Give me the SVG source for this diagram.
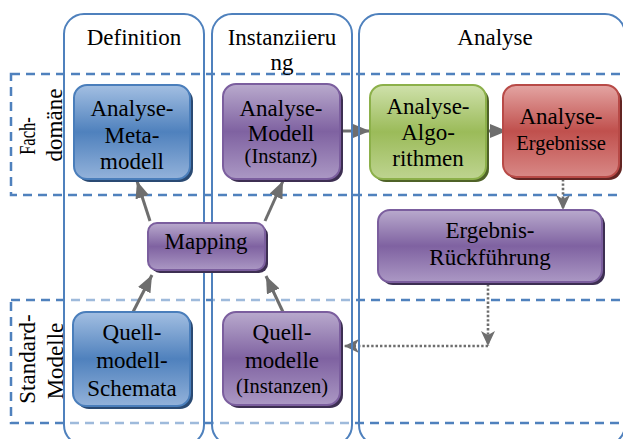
<svg xmlns="http://www.w3.org/2000/svg" width="623" height="439" viewBox="0 0 623 439" font-family="Liberation Serif, Times New Roman, serif">
  <style>
    text { fill: #000; }
    .t { font-size: 23px; text-anchor: middle; }
    .s { font-size: 20.5px; text-anchor: middle; }
    .row { fill: none; stroke: #4f81bd; stroke-width: 2.5; stroke-dasharray: 9 6; }
    .col { fill: none; stroke: #4f81bd; stroke-width: 2; }
    .fade { fill: #fff; opacity: 0.45; }
    .solid { fill: none; stroke: #6e6e6e; stroke-width: 3; marker-end: url(#tri); }
    .dotted { fill: none; stroke: #6e6e6e; stroke-width: 2.6; stroke-dasharray: 2.4 2; marker-end: url(#dart); }
    .blue .sh { fill: #2a4a73; } .blue .bx { fill: url(#gBlue); stroke: #4a7ebb; stroke-width: 2; }
    .purple .sh { fill: #3d2f52; } .purple .bx { fill: url(#gPurple); stroke: #7b5e9e; stroke-width: 2; }
    .green .sh { fill: #4f6228; } .green .bx { fill: url(#gGreen); stroke: #8cb04a; stroke-width: 2; }
    .red .sh { fill: #632523; } .red .bx { fill: url(#gRed); stroke: #b84a47; stroke-width: 2; }
  </style>
  <defs>
    <linearGradient id="gBlue" x1="0" y1="0" x2="0" y2="1">
      <stop offset="0" stop-color="#a3bfe2"/>
      <stop offset="0.5" stop-color="#4f81bd"/>
      <stop offset="1" stop-color="#93b2da"/>
    </linearGradient>
    <linearGradient id="gPurple" x1="0" y1="0" x2="0" y2="1">
      <stop offset="0" stop-color="#b9aacd"/>
      <stop offset="0.5" stop-color="#7f62a1"/>
      <stop offset="1" stop-color="#ab98c4"/>
    </linearGradient>
    <linearGradient id="gGreen" x1="0" y1="0" x2="0" y2="1">
      <stop offset="0" stop-color="#cfe1ab"/>
      <stop offset="0.5" stop-color="#9bbb59"/>
      <stop offset="1" stop-color="#bed490"/>
    </linearGradient>
    <linearGradient id="gRed" x1="0" y1="0" x2="0" y2="1">
      <stop offset="0" stop-color="#e4a5a3"/>
      <stop offset="0.5" stop-color="#c0504d"/>
      <stop offset="1" stop-color="#d88886"/>
    </linearGradient>
    <marker id="tri" markerUnits="userSpaceOnUse" markerWidth="18" markerHeight="16" refX="17" refY="7" orient="auto">
      <path d="M0,0 L17,7 L0,14 z" fill="#6e6e6e"/>
    </marker>
    <marker id="dart" markerUnits="userSpaceOnUse" markerWidth="16" markerHeight="16" refX="15" refY="7" orient="auto">
      <path d="M0,0 L15,7 L0,14 L4,7 z" fill="#6e6e6e"/>
    </marker>
  </defs>

  <!-- swimlane rows -->
  <g id="rows">
    <rect class="row" x="11" y="74" width="625" height="121"/>
    <rect class="row" x="11" y="300" width="625" height="123"/>
    <rect class="fade" x="65" y="297" width="138" height="6"/>
    <rect class="fade" x="213" y="297" width="138" height="6"/>
    <rect class="fade" x="65" y="420" width="138" height="6"/>
    <rect class="fade" x="213" y="420" width="138" height="6"/>
    <text class="t" transform="translate(35,136) rotate(-90) scale(0.72,1)">Fach-</text>
    <text class="t" transform="translate(62,125) rotate(-90)">domäne</text>
    <text class="t" transform="translate(35,359) rotate(-90)">Standard-</text>
    <text class="t" transform="translate(63,361) rotate(-90)">Modelle</text>
  </g>

  <!-- connectors -->
  <g id="connectors">
    <path class="solid" d="M150,221 L137,181"/>
    <path class="solid" d="M265,221 L283,181"/>
    <path class="solid" d="M133,312 L152,275"/>
    <path class="solid" d="M283,312 L266,276"/>
    <path class="solid" d="M341,131 L370,131"/>
    <path class="solid" d="M486,131 L507,131"/>
    <path class="dotted" d="M563,179 L563,210"/>
    <path class="dotted" d="M488,284 L488,346"/>
    <path class="dotted" d="M488,346 L344,346"/>
  </g>

  <!-- phase columns -->
  <g id="col-definition">
    <rect class="col" x="64" y="14" width="140" height="431" rx="20"/>
    <text class="t" x="134" y="45">Definition</text>
  </g>
  <g id="col-instanziierung">
    <rect class="col" x="212" y="14" width="140" height="431" rx="20"/>
    <text class="t" x="282" y="45">Instanziieru</text>
    <text class="t" x="282" y="70">ng</text>
  </g>
  <g id="col-analyse">
    <rect class="col" x="359" y="14" width="266" height="431" rx="20"/>
    <text class="t" x="495" y="45">Analyse</text>
  </g>

  <!-- nodes -->
  <g id="analyse-metamodell" class="blue">
    <rect class="sh" x="77" y="88" width="116" height="94" rx="13"/>
    <rect class="bx" x="74" y="85" width="116" height="94" rx="13"/>
    <text class="t" x="132" y="116">Analyse-</text>
    <text class="t" x="132" y="143">Meta-</text>
    <text class="t" x="132" y="169">modell</text>
  </g>
  <g id="analyse-modell" class="purple">
    <rect class="sh" x="226" y="87" width="117" height="95" rx="13"/>
    <rect class="bx" x="223" y="84" width="117" height="95" rx="13"/>
    <text class="t" x="281" y="116">Analyse-</text>
    <text class="t" x="281" y="141">Modell</text>
    <text class="s" x="281" y="163">(Instanz)</text>
  </g>
  <g id="analyse-algorithmen" class="green">
    <rect class="sh" x="373" y="88" width="116" height="94" rx="13"/>
    <rect class="bx" x="370" y="85" width="116" height="94" rx="13"/>
    <text class="t" x="428" y="114">Analyse-</text>
    <text class="t" x="428" y="140">Algo-</text>
    <text class="t" x="428" y="166">rithmen</text>
  </g>
  <g id="analyse-ergebnisse" class="red">
    <rect class="sh" x="506" y="88" width="116" height="92" rx="13"/>
    <rect class="bx" x="503" y="85" width="116" height="92" rx="13"/>
    <text class="t" x="561" y="124">Analyse-</text>
    <text class="s" x="561" y="150">Ergebnisse</text>
  </g>
  <g id="mapping" class="purple">
    <rect class="sh" x="151" y="226" width="117" height="47" rx="9"/>
    <rect class="bx" x="148" y="223" width="117" height="47" rx="9"/>
    <text class="t" x="206" y="249">Mapping</text>
  </g>
  <g id="ergebnis-rueckfuehrung" class="purple">
    <rect class="sh" x="381" y="213" width="224" height="72" rx="12"/>
    <rect class="bx" x="378" y="210" width="224" height="72" rx="12"/>
    <text class="t" x="490" y="238">Ergebnis-</text>
    <text class="t" x="490" y="265">Rückführung</text>
  </g>
  <g id="quellmodell-schemata" class="blue">
    <rect class="sh" x="76" y="315" width="117" height="94" rx="13"/>
    <rect class="bx" x="73" y="312" width="117" height="94" rx="13"/>
    <text class="t" x="132" y="340">Quell-</text>
    <text class="t" x="132" y="368">modell-</text>
    <text class="t" x="132" y="396">Schemata</text>
  </g>
  <g id="quellmodelle" class="purple">
    <rect class="sh" x="226" y="315" width="117" height="93" rx="13"/>
    <rect class="bx" x="223" y="312" width="117" height="93" rx="13"/>
    <text class="t" x="282" y="340">Quell-</text>
    <text class="t" x="282" y="368">modelle</text>
    <text class="s" x="282" y="393">(Instanzen)</text>
  </g>
</svg>
